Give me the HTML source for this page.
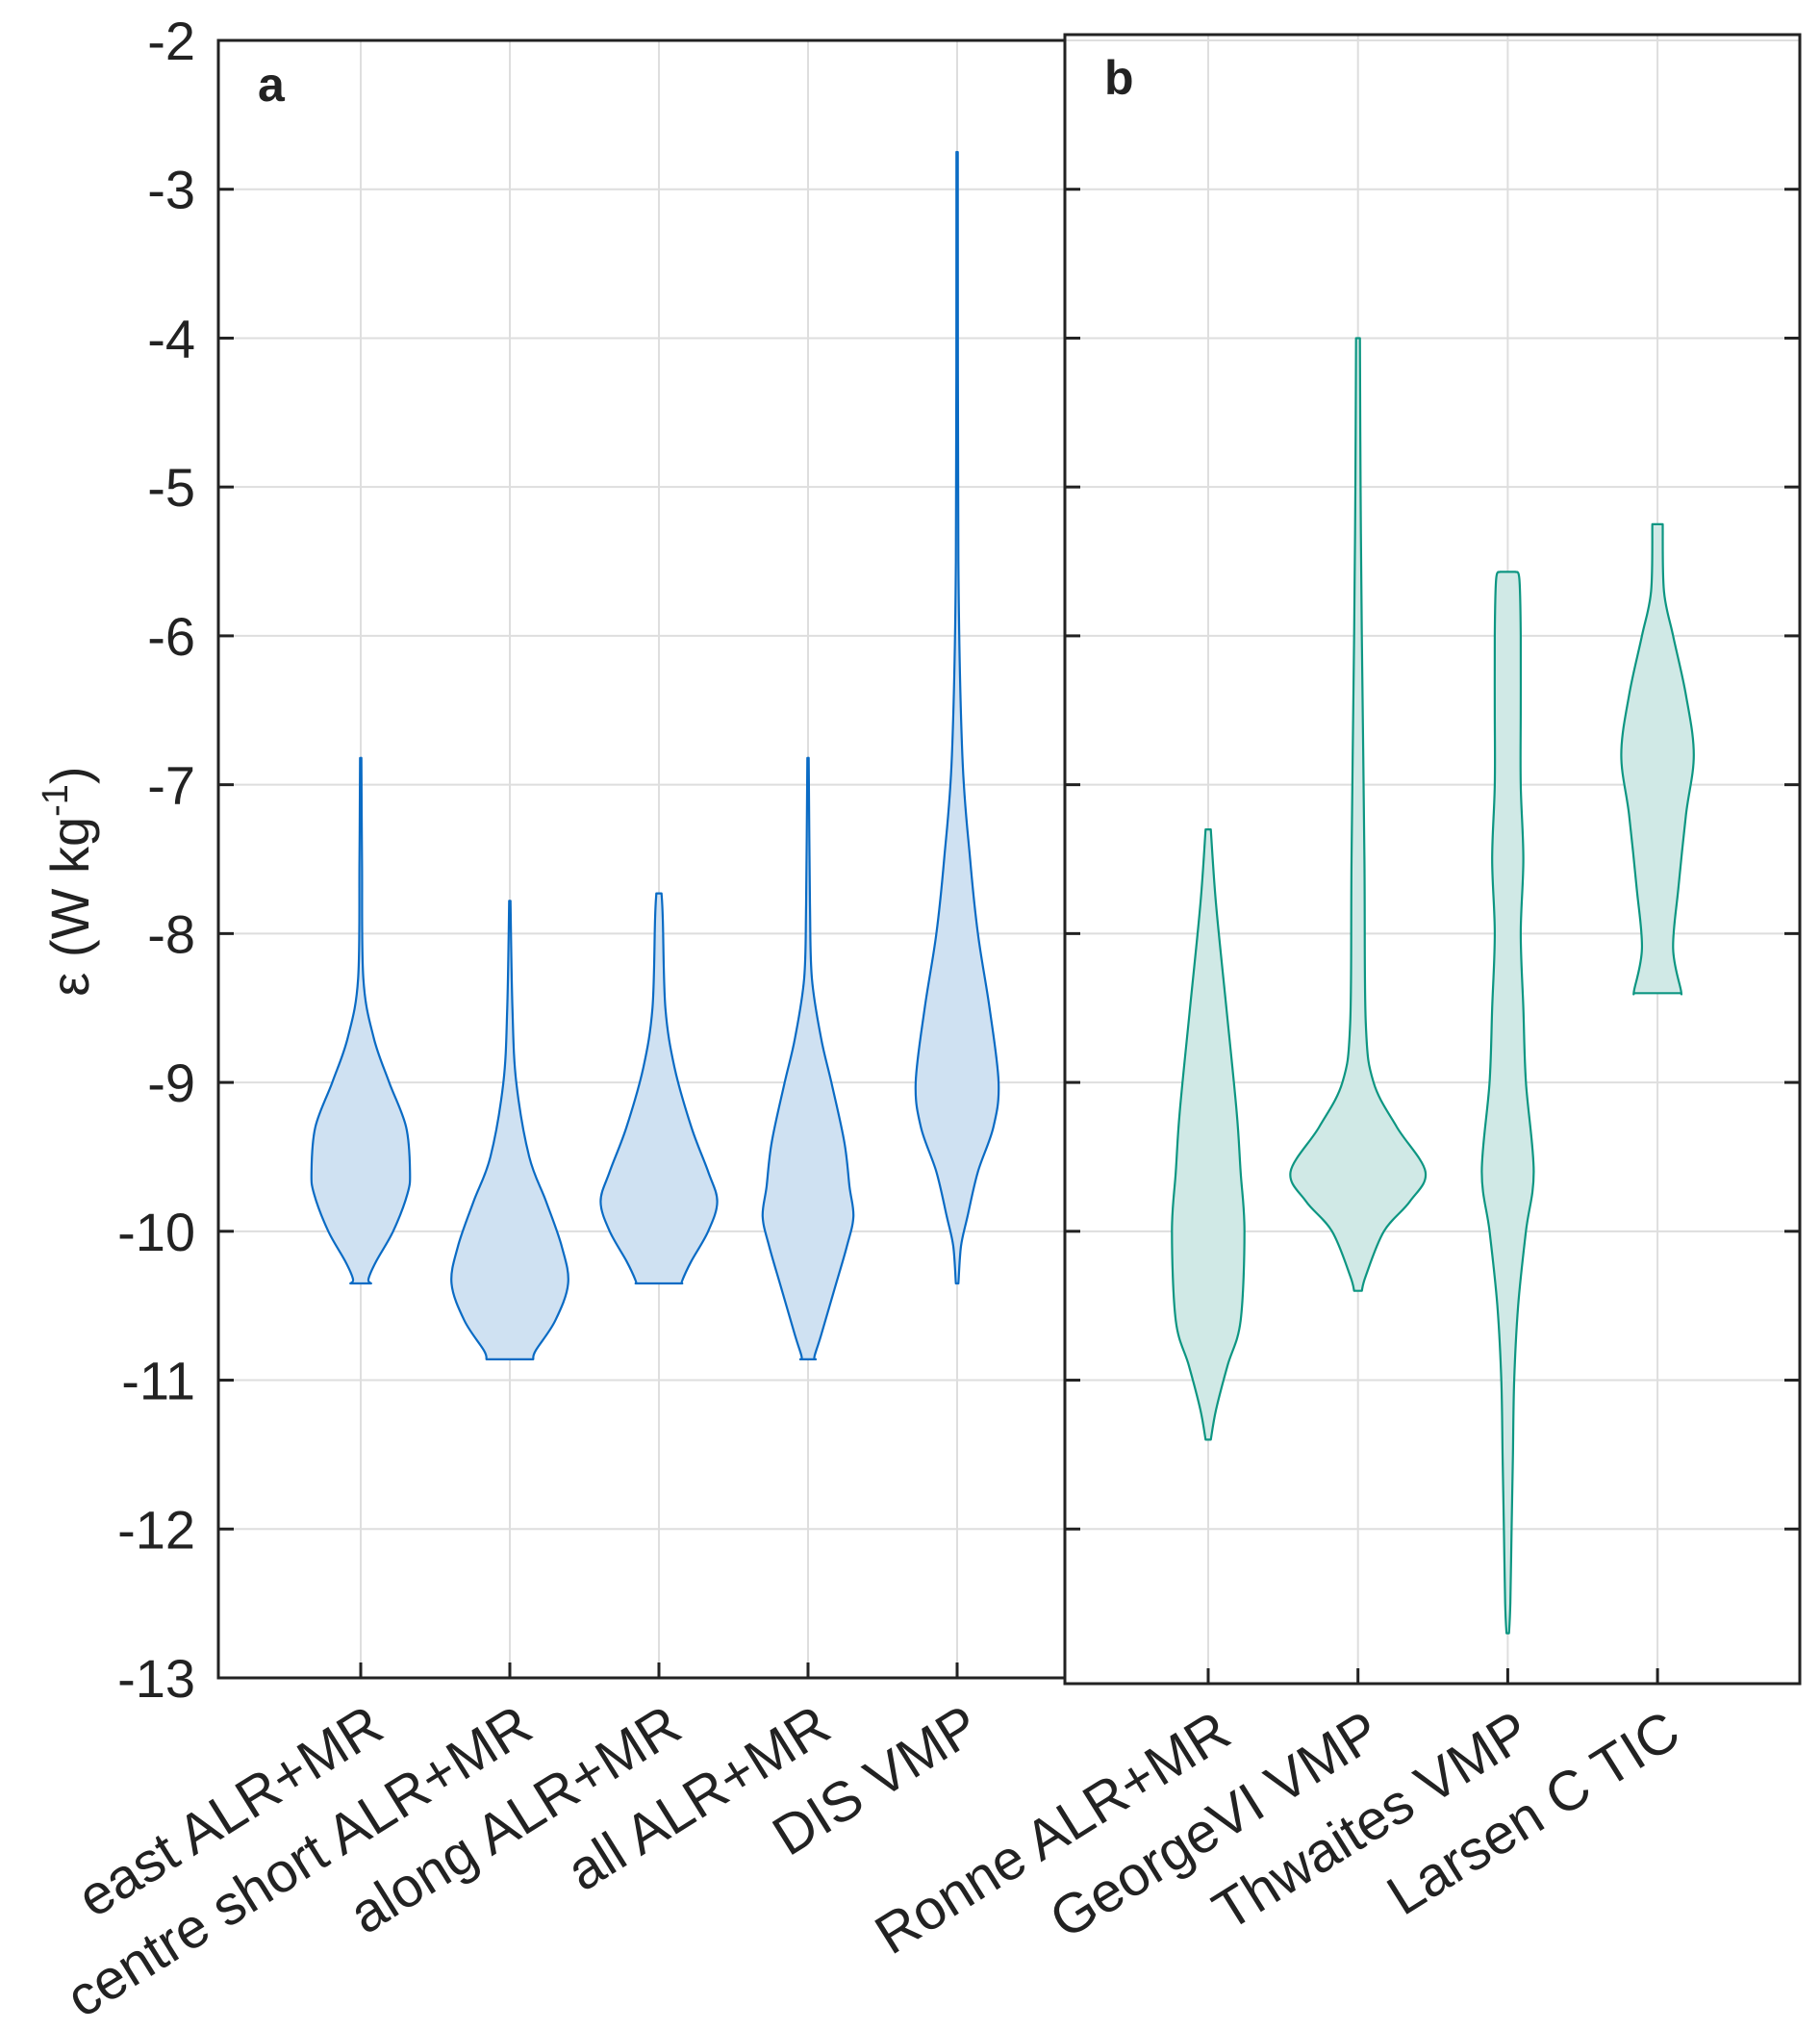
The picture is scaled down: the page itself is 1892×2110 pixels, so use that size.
<!DOCTYPE html>
<html><head><meta charset="utf-8"><style>
html,body{margin:0;padding:0;background:#fff;}
svg{display:block;font-family:"Liberation Sans",Arial,sans-serif;}
</style></head><body>
<svg id="chart" width="1892" height="2110" viewBox="0 0 1892 2110" xmlns="http://www.w3.org/2000/svg">
<g id="grid"></g><g id="violins"></g><g id="axes"></g><g id="labels"></g>
</svg>
<script>
// ---- data ----
const catsA = ["east ALR+MR","centre short ALR+MR","along ALR+MR","all ALR+MR","DIS VMP"];
const catsB = ["Ronne ALR+MR","GeorgeVI VMP","Thwaites VMP","Larsen C TIC"];
const yTicks = [-2,-3,-4,-5,-6,-7,-8,-9,-10,-11,-12,-13];
// violin profiles: [epsilon value, relative density]
const vEast = [[-6.82,0.5],[-7.5,1],[-8.3,2],[-8.7,10],[-9.0,22],[-9.3,35],[-9.6,38],[-9.75,36],[-10.0,25],[-10.2,12],[-10.32,6],[-10.35,8]];
const vCentre = [[-7.78,0.5],[-8.5,2],[-9.0,5],[-9.5,15],[-9.8,28],[-10.1,40],[-10.35,45],[-10.6,35],[-10.8,20],[-10.86,18]];
const vAlong = [[-7.73,2],[-7.9,3],[-8.5,5],[-8.9,12],[-9.3,25],[-9.6,38],[-9.8,45],[-10.0,38],[-10.2,25],[-10.33,18],[-10.35,18]];
const vAll = [[-6.82,0.5],[-7.8,1.5],[-8.3,3],[-8.7,10],[-9.0,18],[-9.4,28],[-9.7,32],[-9.9,35],[-10.1,30],[-10.4,20],[-10.7,10],[-10.84,5],[-10.86,6]];
const vDis = [[-2.75,0.5],[-5.5,1],[-6.8,4],[-7.5,10],[-8.0,16],[-8.5,25],[-9.0,32],[-9.3,28],[-9.6,16],[-9.9,8],[-10.1,3],[-10.35,1]];
const vRonne = [[-7.3,2],[-7.8,6],[-8.5,14],[-9.2,22],[-9.6,25],[-10.0,28],[-10.6,25],[-10.9,15],[-11.2,6],[-11.4,2]];
const vGeorge = [[-4.0,1.5],[-5.0,2],[-6.0,3],[-7.5,5],[-8.6,6],[-9.0,12],[-9.3,30],[-9.6,52],[-9.8,40],[-10.0,20],[-10.3,6],[-10.4,3]];
const vThw = [[-5.57,6],[-5.62,9],[-6.0,10],[-6.5,10],[-7.0,10],[-7.5,12],[-8.0,10],[-8.5,12],[-9.0,14],[-9.6,20],[-10.0,14],[-10.5,8],[-11.0,5],[-11.5,4],[-12.0,3],[-12.5,2],[-12.7,1]];
const vLarsen = [[-5.25,4],[-5.7,5],[-6.0,12],[-6.4,22],[-6.8,28],[-7.2,22],[-7.7,16],[-8.1,12],[-8.38,18],[-8.4,18]];
const violinsA = [vEast,vCentre,vAlong,vAll,vDis];
const violinsB = [vRonne,vGeorge,vThw,vLarsen];

// ---- layout ----
const NS="http://www.w3.org/2000/svg";
const A={x0:227,x1:1107,y0:42,y1:1744,cx0:375,step:155};
const B={x0:1107,x1:1871,y0:36,y1:1750,cx0:1256,step:155.7};
const yScale = v => A.y0 + (-2 - v)/11*(A.y1-A.y0);
const xA = i => A.cx0 + i*A.step;
const xB = i => B.cx0 + i*B.step;
const wScale = d => d*1.3476;
function el(tag,attrs,parent){const e=document.createElementNS(NS,tag);for(const k in attrs)e.setAttribute(k,attrs[k]);parent.appendChild(e);return e;}
const grid=document.getElementById('grid'),vg=document.getElementById('violins'),ax=document.getElementById('axes'),lb=document.getElementById('labels');

function smoothPath(pts){
  let d=`M${pts[0][0]},${pts[0][1]}`;
  for(let i=0;i<pts.length-1;i++){
    const p0=pts[Math.max(0,i-1)],p1=pts[i],p2=pts[i+1],p3=pts[Math.min(pts.length-1,i+2)];
    const c1=[p1[0]+(p2[0]-p0[0])/6,p1[1]+(p2[1]-p0[1])/6];
    const c2=[p2[0]-(p3[0]-p1[0])/6,p2[1]-(p3[1]-p1[1])/6];
    d+=` C${c1[0].toFixed(1)},${c1[1].toFixed(1)} ${c2[0].toFixed(1)},${c2[1].toFixed(1)} ${p2[0].toFixed(1)},${p2[1].toFixed(1)}`;
  }
  return d;
}
function violin(prof,cx,stroke,fill,name){
  const right=prof.map(p=>[cx+wScale(p[1]),yScale(p[0])]);
  const left=prof.slice().reverse().map(p=>[cx-wScale(p[1]),yScale(p[0])]);
  const d=smoothPath(right)+` L${left[0][0].toFixed(1)},${left[0][1].toFixed(1)}`+smoothPath(left).replace(/^M[^C]*/,' ')+' Z';
  const p=el('path',{d:d,fill:fill,stroke:stroke,'stroke-width':2.2,'stroke-linejoin':'round'},vg);
  
  
}

// grid
yTicks.forEach(t=>{
  const y=yScale(t);
  if(t>-13&&t<-2){
    el('line',{x1:A.x0,x2:A.x1,y1:y,y2:y,stroke:'#dedede','stroke-width':2},grid);
  }
  if(t>-13){
    el('line',{x1:B.x0,x2:B.x1,y1:y,y2:y,stroke:'#dedede','stroke-width':2},grid);
  }
});
catsA.forEach((c,i)=>el('line',{x1:xA(i),x2:xA(i),y1:A.y0,y2:A.y1,stroke:'#dedede','stroke-width':2},grid));
catsB.forEach((c,i)=>el('line',{x1:xB(i),x2:xB(i),y1:B.y0,y2:B.y1,stroke:'#dedede','stroke-width':2},grid));

// violins
violinsA.forEach((v,i)=>violin(v,xA(i),'#0a6bc4','#cfe1f2','violin-'+catsA[i].toLowerCase().replace(/[^a-z]+/g,'-')));
violinsB.forEach((v,i)=>violin(v,xB(i),'#0d9682','#d0e9e6','violin-'+catsB[i].toLowerCase().replace(/[^a-z]+/g,'-')));

// axes
const axA=el('path',{d:`M${A.x1},${A.y0} L${A.x0},${A.y0} L${A.x0},${A.y1} L${B.x0},${A.y1}`,fill:'none',stroke:'#222','stroke-width':3},ax);


const axB=el('rect',{x:B.x0,y:B.y0,width:B.x1-B.x0,height:B.y1-B.y0,fill:'none',stroke:'#222','stroke-width':3},ax);


yTicks.forEach(t=>{
  const y=yScale(t);
  el('line',{x1:A.x0,x2:A.x0+16,y1:y,y2:y,stroke:'#222','stroke-width':3},ax);
  if(t>-13&&t<-2){
    el('line',{x1:B.x0,x2:B.x0+16,y1:y,y2:y,stroke:'#222','stroke-width':3},ax);
    el('line',{x1:B.x1-16,x2:B.x1,y1:y,y2:y,stroke:'#222','stroke-width':3},ax);
  }
  const tx=el('text',{x:203,y:y+20,'text-anchor':'end','font-size':56,fill:'#222'},lb);
  tx.textContent=String(t);
  
  
});
catsA.forEach((c,i)=>{
  el('line',{x1:xA(i),x2:xA(i),y1:A.y1,y2:A.y1-16,stroke:'#222','stroke-width':3},ax);
  const x=xA(i)+27,y=1804;
  const tx=el('text',{x:x,y:y,'text-anchor':'end','font-size':58,fill:'#222',transform:`rotate(-32 ${x} ${y})`},lb);
  tx.textContent=c;
  
  
});
catsB.forEach((c,i)=>{
  el('line',{x1:xB(i),x2:xB(i),y1:B.y1,y2:B.y1-16,stroke:'#222','stroke-width':3},ax);
  const x=xB(i)+27,y=1810;
  const tx=el('text',{x:x,y:y,'text-anchor':'end','font-size':58,fill:'#222',transform:`rotate(-32 ${x} ${y})`},lb);
  tx.textContent=c;
  
  
});
</script>
<svg style="position:absolute;left:0;top:0" width="1892" height="2110">
<text x="268" y="105" font-size="50" font-weight="bold" fill="#222" font-family="Liberation Sans, sans-serif">a</text>
<text x="1148" y="98" font-size="50" font-weight="bold" fill="#222" font-family="Liberation Sans, sans-serif">b</text>
<text transform="translate(92 916) rotate(-90)" text-anchor="middle" font-size="56" fill="#222" font-family="Liberation Sans, sans-serif">ε (W kg<tspan dy="-22" font-size="38">-1</tspan><tspan dy="22">)</tspan></text>
</svg>
</body></html>
